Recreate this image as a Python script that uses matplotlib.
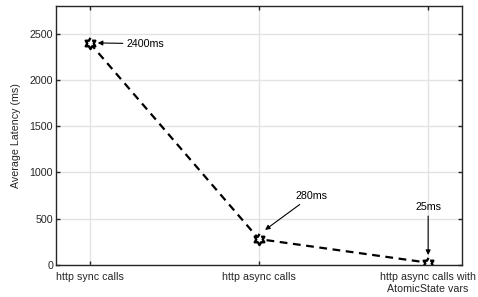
import numpy as np
import matplotlib.pyplot as plt

plt.rcParams['font.family'] = ['Liberation Sans', 'DejaVu Sans']

x = [1, 2, 3]
latency = [2400, 280, 25]
labels = ['http sync calls', 'http async calls', 'http async calls with\nAtomicState vars']
notes = ['2400ms', '280ms', '25ms']

# hexagram (star of David outline), pointing up
ang = np.pi / 2 + np.arange(12) * np.pi / 6
rad = np.where(np.arange(12) % 2 == 0, 1.0, 1 / np.sqrt(3))
hexagram = np.column_stack([rad * np.cos(ang), rad * np.sin(ang)])

fig = plt.figure(figsize=(4.78, 2.97), dpi=100)
ax = fig.add_axes([0.117, 0.1077, 0.8495, 0.8723])

ax.plot(x, latency, color='black', linestyle=(0, (3.5, 2.5)), linewidth=1.6,
        marker=hexagram, markersize=8, markerfacecolor='white',
        markeredgecolor='black', markeredgewidth=1.7)

ax.set_xlim(0.8, 3.2)
ax.set_ylim(0, 2800)
ax.set_xticks(x)
ax.set_xticklabels(labels)
ax.set_yticks([0, 500, 1000, 1500, 2000, 2500])
ax.grid(True, color='#e3e3e3', linewidth=1)
ax.set_axisbelow(True)
ax.tick_params(direction='in', top=True, right=True, length=3, width=1,
               colors='#262626', labelsize=7.7)
ax.tick_params(axis='x', pad=5)
ax.tick_params(axis='y', pad=2)
for s in ax.spines.values():
    s.set_color('#262626')
    s.set_linewidth(1)
ax.set_ylabel('Average Latency (ms)', fontsize=7.7, color='#262626', labelpad=6)

arrow = dict(arrowstyle='-|>', color='black', lw=0.8, mutation_scale=7,
             shrinkA=1, shrinkB=0)
ax.annotate(notes[0], xy=(1.047, latency[0]), xytext=(1.22, 2392),
            fontsize=7.7, va='center', ha='left', arrowprops=arrow)
ax.annotate(notes[1], xy=(2.036, 379), xytext=(2.31, 747),
            fontsize=7.7, va='center', ha='center', arrowprops=arrow)
ax.annotate(notes[2], xy=(3.0, 108), xytext=(3.0, 628),
            fontsize=7.7, va='center', ha='center', arrowprops=arrow)

fig.savefig('out.png', dpi=100)
